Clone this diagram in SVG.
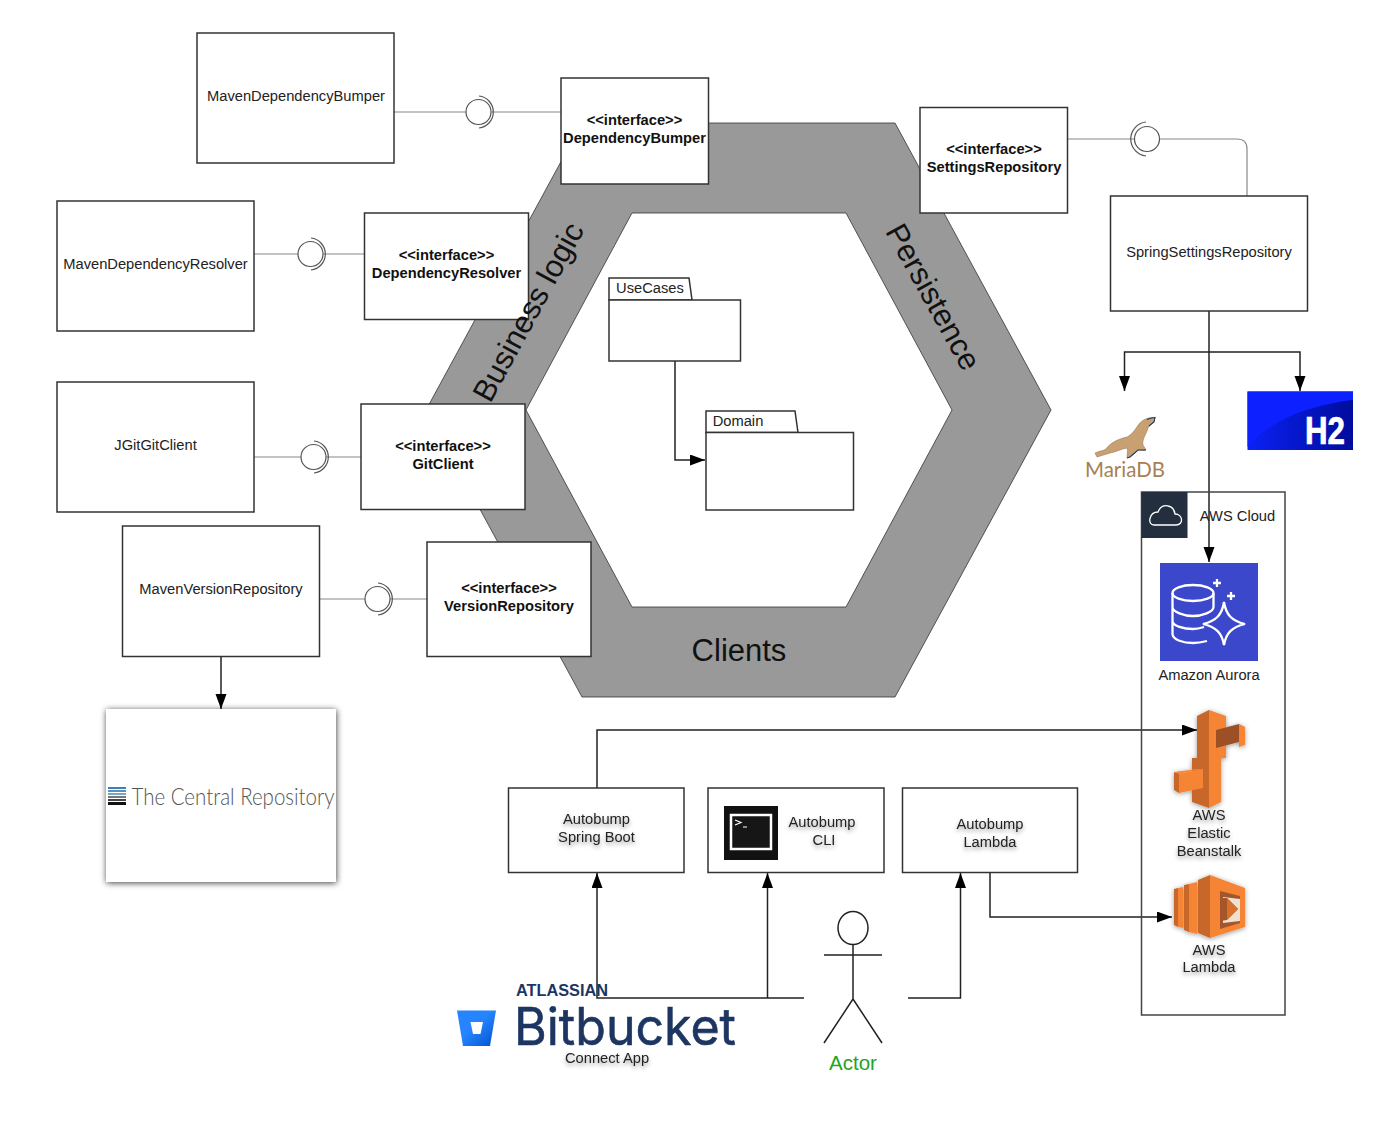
<svg xmlns="http://www.w3.org/2000/svg" width="1386" height="1129" viewBox="0 0 1386 1129">
<style>
text{font-family:"Liberation Sans",Arial,sans-serif;fill:#222;font-size:14.7px;text-anchor:middle}
.b{fill:#fff;stroke:#333;stroke-width:1.5}
.i{font-weight:bold;fill:#111;font-size:14.7px}
.c{fill:none;stroke:#222;stroke-width:1.5}
.l{fill:none;stroke:#888;stroke-width:1.2}
.sh{filter:url(#ts)}
.o{fill:#f58534}.d{fill:#9d5025}.m{fill:#c7672a}
</style>
<defs>
<marker id="a" markerUnits="userSpaceOnUse" markerWidth="16" markerHeight="12" refX="15" refY="5.500" orient="auto"><path d="M0 0L15 5.500L0 11z" fill="#000"/></marker>
<filter id="ts" x="-20%" y="-30%" width="140%" height="170%"><feDropShadow dx="0" dy="2.500" stdDeviation="2.200" flood-color="#000" flood-opacity=".4"/></filter>
<filter id="bs" x="-10%" y="-10%" width="120%" height="120%"><feDropShadow dx="0.500" dy="1" stdDeviation="3" flood-color="#000" flood-opacity=".75"/></filter>
<filter id="is" x="-15%" y="-15%" width="130%" height="130%"><feDropShadow dx="0" dy="1" stdDeviation="2.500" flood-color="#000" flood-opacity=".4"/></filter>
<linearGradient id="h2" x1="0" y1="0" x2="1" y2="0"><stop offset="0" stop-color="#0a22f5"/><stop offset="1" stop-color="#000c9c"/></linearGradient>
<linearGradient id="bb" x1="0" y1="0" x2="1" y2="1"><stop offset="0.45" stop-color="#2684ff"/><stop offset="1" stop-color="#0052cc"/></linearGradient>
</defs>

<g id="hexagon">
<path fill-rule="evenodd" fill="#999" stroke="#333" stroke-width=".8" d="M582 123H895L1051 410L895 697H582L426 410ZM632 213L526 410L632 607H846L952 410L846 213Z"/>
<text transform="translate(924 302) rotate(61)" style="font-size:31px;fill:#111">Persistence</text>
<text x="739" y="661" style="font-size:31px;fill:#111">Clients</text>
</g>

<g id="connectors">
<path class="l" d="M394 112H466M491 112H561"/>
<path class="l" d="M254 254H298M323 254H364"/>
<path class="l" d="M254 457H301M326 457H361"/>
<path class="l" d="M320 599H365M390 599H427"/>
<path class="l" d="M1068 139H1134M1159 139H1237Q1247 139 1247 149V196"/>
<path class="c" d="M675 361V460H705" marker-end="url(#a)"/>
<path class="c" d="M221 657V709" marker-end="url(#a)"/>
<path class="c" d="M1209 311V562" marker-end="url(#a)"/>
<path class="c" d="M1209 352H1124.500V391" marker-end="url(#a)"/>
<path class="c" d="M1209 352H1300V391" marker-end="url(#a)"/>
<path class="c" d="M597 788V730H1197" marker-end="url(#a)"/>
<path class="c" d="M990 873V917H1172" marker-end="url(#a)"/>
<path class="c" d="M804 998H597V873" marker-end="url(#a)"/>
<path class="c" d="M767.500 998V873" marker-end="url(#a)"/>
<path class="c" d="M908 998H960.500V873" marker-end="url(#a)"/>
</g>

<g id="lollipops" fill="#fff" stroke="#555" stroke-width="1.2">
<g><circle cx="478.500" cy="112" r="12.500"/><path fill="none" d="M479 96A16.100 16.100 0 0 1 479 128"/></g>
<g><circle cx="310.500" cy="254" r="12.500"/><path fill="none" d="M311 238A16.100 16.100 0 0 1 311 270"/></g>
<g><circle cx="313.500" cy="457" r="12.500"/><path fill="none" d="M314 441A16.100 16.100 0 0 1 314 473"/></g>
<g><circle cx="377.500" cy="599" r="12.500"/><path fill="none" d="M378 583A16.100 16.100 0 0 1 378 615"/></g>
<g><circle cx="1147" cy="139" r="12.500"/><path fill="none" d="M1146 122A17.100 17.100 0 0 0 1146 156"/></g>
</g>

<g id="MavenDependencyBumper"><rect class="b" x="197" y="33" width="197" height="130"/><text x="296" y="101">MavenDependencyBumper</text></g>
<g id="MavenDependencyResolver"><rect class="b" x="57" y="201" width="197" height="130"/><text x="155.500" y="269">MavenDependencyResolver</text></g>
<g id="JGitGitClient"><rect class="b" x="57" y="382" width="197" height="130"/><text x="155.500" y="450">JGitGitClient</text></g>
<g id="MavenVersionRepository"><rect class="b" x="122.500" y="526" width="197" height="130.500"/><text x="221" y="594">MavenVersionRepository</text></g>
<g id="DependencyBumper"><rect class="b" x="561" y="78" width="147.500" height="106"/><text class="i" x="634.500" y="125">&lt;&lt;interface&gt;&gt;</text><text class="i" x="634.500" y="143">DependencyBumper</text></g>
<g id="DependencyResolver"><rect class="b" x="364.500" y="213" width="164" height="106.500"/><text class="i" x="446.500" y="260">&lt;&lt;interface&gt;&gt;</text><text class="i" x="446.500" y="278">DependencyResolver</text></g>
<g id="GitClient"><rect class="b" x="361" y="404" width="164" height="105.500"/><text class="i" x="443" y="451">&lt;&lt;interface&gt;&gt;</text><text class="i" x="443" y="469">GitClient</text></g>
<g id="VersionRepository"><rect class="b" x="427" y="542" width="164" height="114.500"/><text class="i" x="509" y="593">&lt;&lt;interface&gt;&gt;</text><text class="i" x="509" y="611">VersionRepository</text></g>
<g id="SettingsRepository"><rect class="b" x="920" y="107.500" width="147.500" height="105.500"/><text class="i" x="994" y="154">&lt;&lt;interface&gt;&gt;</text><text class="i" x="994" y="172">SettingsRepository</text></g>
<g id="SpringSettingsRepository"><rect class="b" x="1110.500" y="196" width="197" height="115"/><text x="1209" y="257">SpringSettingsRepository</text></g>

<g id="BusinessLogicLabel"><text transform="translate(537.500 317) rotate(-61.500)" style="font-size:31px;fill:#111">Business logic</text></g>

<g id="UseCases"><path class="b" d="M609 278H689L692 300H609Z"/><rect class="b" x="609" y="300" width="131.500" height="61"/><text x="650" y="293">UseCases</text></g>
<g id="Domain"><path class="b" d="M706 411H795L798 432.500H706Z"/><rect class="b" x="706" y="432.500" width="147.500" height="77.500"/><text x="738" y="426">Domain</text></g>

<g id="CentralRepository">
<rect x="106" y="709" width="230" height="173" fill="#fff" filter="url(#bs)"/>
<rect x="108" y="787" width="18" height="2" fill="#3f7fb5"/><rect x="108" y="790" width="18" height="2" fill="#5b92bf"/><rect x="108" y="793" width="18" height="2" fill="#7aa6c6"/><rect x="108" y="796" width="18" height="2" fill="#777"/><rect x="108" y="799" width="18" height="2" fill="#444"/><rect x="108" y="802" width="18" height="3" fill="#111"/>
<text x="233" y="805" textLength="203" lengthAdjust="spacingAndGlyphs" style="font-size:24px;font-family:Lato,'Liberation Sans',sans-serif;font-weight:300;fill:#555">The Central Repository</text>
</g>

<g id="MariaDB">
<path fill="#c9a072" stroke="#8a6a45" stroke-width=".5" d="M1095 453C1099 451 1103 451 1106 449C1110 443 1118 439 1127 437C1133 434 1136 428 1139 424C1143 419 1149 417 1155 417.500L1154 422C1150 424 1148 427 1147 431C1145 436 1142 440 1143 445L1146 450C1143 451 1140 450 1138 450C1135 453 1131 457 1127 458C1127 454 1128 451 1127 448C1121 449 1116 452 1110 453C1106 454 1101 456 1097 457Z"/>
<path fill="none" stroke="#23395b" stroke-width="1.100" d="M1147 419.500C1150 418 1152 418 1155 417.500L1154 422L1149 426M1146 450L1138 450L1130 457L1127 458"/>
<text x="1125" y="477" textLength="80" lengthAdjust="spacingAndGlyphs" style="font-size:20.500px;fill:#a87f54;font-family:Lato,'Liberation Sans',sans-serif">MariaDB</text>
</g>

<g id="H2">
<rect x="1247.500" y="391.500" width="105.500" height="58.500" fill="url(#h2)"/>
<path d="M1247.500 447C1270 420 1310 405 1353 400V391.500H1247.500Z" fill="#0d20ff"/>
<text x="1325" y="444" stroke="#fff" stroke-width=".7" style="font-size:38px;font-weight:bold;fill:#fff" textLength="40" lengthAdjust="spacingAndGlyphs">H2</text>
</g>

<g id="AWSCloud">
<rect x="1141.500" y="492" width="143.500" height="523" fill="none" stroke="#444" stroke-width="1.500"/>
<rect x="1141.500" y="492" width="46" height="46" fill="#232f3e"/>
<path d="M1154 525H1176C1184 525 1183 514 1175 514C1174 505 1162 502 1158 512C1149 512 1147 525 1154 525Z" fill="none" stroke="#fff" stroke-width="1.300"/>
<text x="1237.500" y="521">AWS Cloud</text>
</g>

<g id="Aurora">
<rect x="1160" y="563" width="98" height="98" fill="#3b48cc"/>
<g fill="none" stroke="#fff" stroke-width="2.300">
<ellipse cx="1193" cy="593" rx="20.500" ry="8"/>
<path d="M1172.500 593V634C1172.500 640 1184 643 1193 643C1198 643 1203 642 1207 641M1172.500 607C1172.500 612 1184 616 1193 616C1202 616 1213.500 612 1213.500 607V593M1172.500 621C1172.500 626 1184 629 1193 629C1197 629 1201 628 1204 627"/>
<path d="M1224 602C1226 615 1232 621 1245 624C1232 627 1226 633 1224 645C1222 633 1216 627 1203 624C1216 621 1222 615 1224 602Z"/>
<path d="M1217 579V587M1213 583H1221M1231 592V600M1227 596H1235"/>
</g>
<text x="1209" y="680">Amazon Aurora</text>
</g>

<g id="Beanstalk" filter="url(#is)">
<path class="o" d="M1209 710L1226 716V758H1221V802L1209 808Z"/>
<path class="m" d="M1209 710L1197 716V758H1192V802L1209 808Z"/>
<path class="d" d="M1216 730L1239 724V742L1216 748Z"/>
<path class="o" d="M1239 724L1245 727V745L1239 747Z"/>
<path class="m" d="M1174 772L1179 773.500V793L1174 790Z"/>
<path class="o" d="M1179 773.500L1203 769V788L1179 793Z"/>
<path class="o" d="M1174 772L1197 769L1203 769L1179 773.500Z"/>
</g>
<g id="BeanstalkLabel" class="sh"><text x="1209" y="820">AWS</text><text x="1209" y="838">Elastic</text><text x="1209" y="856">Beanstalk</text></g>

<g id="Lambda" filter="url(#is)">
<path class="m" d="M1174 889L1178 888V927L1174 925Z"/>
<path class="o" d="M1178 888L1183 887V928L1178 927Z"/>
<path class="m" d="M1184 885L1189 884V932L1184 930Z"/>
<path class="o" d="M1189 884L1197 882V934L1189 932Z"/>
<path class="m" d="M1198 880L1210 875V938L1198 933Z"/>
<path class="o" d="M1210 875L1245 888V927L1210 938Z"/>
<path d="M1220 891L1240 896V923L1220 929Z" fill="#a5552a"/>
<path d="M1223 897L1240 899V921L1223 923Z" fill="#efe0d2"/>
<path d="M1220 898H1227L1238 909L1227 920L1220 921Z" fill="#a5552a"/>
<path d="M1227 898L1238 909L1227 920Z" fill="#d9702c"/>
</g>
<g id="LambdaLabel" class="sh"><text x="1209" y="955">AWS</text><text x="1209" y="972">Lambda</text></g>

<g id="AutobumpSpringBoot"><rect class="b" x="508.500" y="788" width="175.500" height="84.500"/><g class="sh"><text x="596.500" y="824">Autobump</text><text x="596.500" y="842">Spring Boot</text></g></g>
<g id="AutobumpCLI"><rect class="b" x="708" y="788" width="176" height="84.500"/>
<rect x="724" y="806" width="54" height="54" fill="#111"/><rect x="731" y="815" width="40" height="34" fill="#161616" stroke="#fff" stroke-width="2.500"/><path d="M735 820L741 822.500L735 825M743 827H747" stroke="#fff" fill="none" stroke-width="1.200"/>
<g class="sh"><text x="822" y="827">Autobump</text><text x="824" y="845">CLI</text></g></g>
<g id="AutobumpLambda"><rect class="b" x="902.500" y="788" width="175" height="84.500"/><g class="sh"><text x="990" y="829">Autobump</text><text x="990" y="847">Lambda</text></g></g>

<g id="Actor" fill="none" stroke="#222" stroke-width="1.500">
<ellipse cx="853" cy="928" rx="15" ry="16.500"/>
<path d="M853 944.500V999M824 955H882M853 999L824 1043M853 999L882 1043"/>
<text x="853" y="1070" stroke="none" style="font-size:20.500px;fill:#1fa51f">Actor</text>
</g>

<g id="Bitbucket">
<path d="M457 1010.500H496L490 1046H463Z" fill="url(#bb)"/>
<path d="M470.500 1022H483L480.500 1034H473Z" fill="#fff"/>
<text x="562" y="996" textLength="92" lengthAdjust="spacingAndGlyphs" style="font-size:16px;font-weight:bold;fill:#1d3561">ATLASSIAN</text>
<text x="625" y="1045" stroke="#1d3561" stroke-width=".6" style="font-size:52px;fill:#1d3561;font-family:Inter,'Liberation Sans',sans-serif" textLength="222" lengthAdjust="spacingAndGlyphs">Bitbucket</text>
<text class="sh" x="607" y="1063">Connect App</text>
</g>
</svg>
